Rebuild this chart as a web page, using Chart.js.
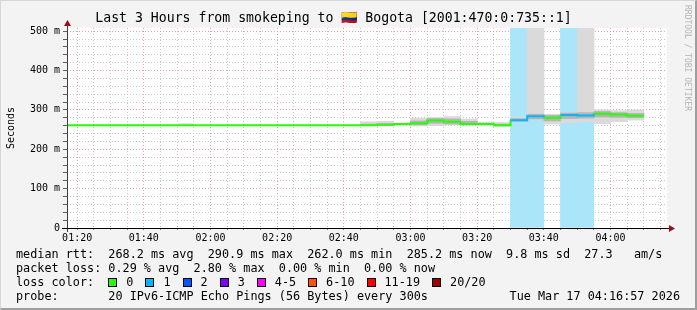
<!DOCTYPE html>
<html>
<head>
<meta charset="utf-8">
<script src="https://cdn.jsdelivr.net/npm/chart.js@4.4.1/dist/chart.umd.min.js"></script>
<style>
  body { margin: 0; background: #f3f3f3; }
  #wrap { position: relative; width: 697px; height: 310px; background: #f3f3f3; overflow: hidden; font-family: 'DejaVu Sans Mono', monospace; }
  #wrap canvas { position: absolute; left: 0; top: 0; }
  .frame { position: absolute; left: 0; top: 0; width: 697px; height: 310px; box-sizing: border-box; border-top: 1px solid #d6d6d6; border-left: 1px solid #d6d6d6; border-right: 2px solid #9e9e9e; border-bottom: 2px solid #9e9e9e; pointer-events: none; }
  .row { position: absolute; left: 16px; font-size: 11.8px; line-height: 14px; white-space: pre; color: #000; }
  .key i { display: inline-block; width: 9px; height: 9px; box-sizing: border-box; border: 1px solid #000; vertical-align: -1px; margin-right: 9px; }
  .key { margin-right: 12px; }
  .stamp { position: absolute; right: 17px; top: 289px; font-size: 11.8px; line-height: 14px; white-space: pre; }
  .mark { position: absolute; left: 683px; top: 5px; writing-mode: vertical-rl; font-size: 8px; color: #b4b4b4; white-space: pre; }
</style>
</head>
<body>
<div id="wrap">
  <canvas id="smoke" width="697" height="310"></canvas>
  <div class="row" style="top:247px">median rtt:  268.2 ms avg  290.9 ms max  262.0 ms min  285.2 ms now  9.8 ms sd  27.3   am/s</div>
  <div class="row" style="top:261px">packet loss: 0.29 % avg  2.80 % max  0.00 % min  0.00 % now</div>
  <div class="row" style="top:275px">loss color:  <span id="lossKeys"></span></div>
  <div class="row" style="top:289px">probe:       20 IPv6-ICMP Echo Pings (56 Bytes) every 300s</div>
  <div class="stamp">Tue Mar 17 04:16:57 2026</div>
  <div class="mark">RRDTOOL / TOBI OETIKER</div>
  <div class="frame"></div>
</div>
<script>
// 5-minute steps (start of each interval)
const stepTimes = ['01:15','01:20','01:25','01:30','01:35','01:40','01:45','01:50','01:55','02:00',
                   '02:05','02:10','02:15','02:20','02:25','02:30','02:35','02:40','02:45','02:50',
                   '02:55','03:00','03:05','03:10','03:15','03:20','03:25','03:30','03:35','03:40',
                   '03:45','03:50','03:55','04:00','04:05'];
const medianRtt = [261,261,261,261,261,261,261,261,261,261,
                   261,261,261,261,261,261,261,261,261,262,
                   264,266,273,270,264,264,261,274,284,280,
                   287,286,290,288,285];
const smokeLo = [null,null,null,null,null,null,null,261,null,null,
                 null,null,null,null,null,null,null,null,261,261,
                 262,259,260,262,262,262,258,269,275,264,
                 267,270,265,270,274];
const smokeHi = [null,null,null,null,null,null,null,265,null,null,
                 null,null,null,null,null,null,null,null,270,271,
                 266,279,281,283,277,269,268,282,520,289,
                 294,520,300,298,300];
const coreLo = [null,null,null,null,null,null,null,null,null,null,
                null,null,null,null,null,null,null,null,261,261,
                262,262,266,264,262,262,260,271,277,272,
                278,279,282,281,280];
const coreHi = [null,null,null,null,null,null,null,null,null,null,
                null,null,null,null,null,null,null,null,264,265,
                265,272,278,277,271,266,264,278,289,286,
                292,293,296,293,291];
const lostPings = [0,0,0,0,0,0,0,0,0,0,
                   0,0,0,0,0,0,0,0,0,0,
                   0,0,0,0,0,0,0,1,1,0,
                   1,1,0,0,0];

const xTickLabels = ['01:20','01:40','02:00','02:20','02:40','03:00','03:20','03:40','04:00'];
const yTickLabels = ['0','100 m','200 m','300 m','400 m','500 m'];
const lossKeyLabels = ['0','1','2','3','4-5','6-10','11-19','20/20'];
const lossKeyColors = ['#26ff00','#00b8ff','#0059ff','#7e00ff','#ff00ff','#ff5500','#ff0000','#a10000'];

const xStart = '01:16:57', xEnd = '04:16:57';
const yMax = 508;
const STEP = 5;
const toMin = s => { const [h, m, sec = 0] = s.split(':').map(Number); return h * 60 + m + sec / 60; };

const keys = document.getElementById('lossKeys');
lossKeyLabels.forEach((lab, i) => {
  const s = document.createElement('span');
  s.className = 'key';
  s.innerHTML = '<i style="background:' + lossKeyColors[i] + '"></i>' + lab;
  keys.appendChild(s);
});

const starts = stepTimes.map(toMin);
const bandData = (lo, hi) => starts
  .map((t, i) => lo[i] == null ? null : { x: t + STEP / 2, y: [lo[i], hi[i]] })
  .filter(Boolean);
const lossBg = starts
  .map((t, i) => lostPings[i] > 0 ? { x: t + STEP / 2, y: [0, yMax] } : null)
  .filter(Boolean);
const medianPts = starts.map((t, i) => ({ x: t, y: medianRtt[i] }));
medianPts.push({ x: starts[starts.length - 1] + STEP, y: medianRtt[medianRtt.length - 1] });

const gridTicksX = [];
for (let t = Math.ceil(toMin(xStart) / STEP) * STEP; t <= toMin(xEnd); t += STEP) gridTicksX.push(t);
const gridTicksY = [];
for (let v = 0; v <= 500; v += 20) gridTicksY.push(v);

const MAJOR = '#f2a2a2', MINOR = '#c8c8c8';
const barBase = { type: 'bar', grouped: false, barPercentage: 1, categoryPercentage: 1, borderWidth: 0, clip: 0 };

const frameBits = {
  id: 'frameBits',
  beforeDraw(chart) {
    const { ctx, chartArea: a } = chart;
    ctx.save();
    ctx.fillStyle = '#ffffff';
    ctx.fillRect(a.left, a.top, a.right - a.left, a.bottom - a.top);
    ctx.restore();
  },
  afterDraw(chart) {
    const { ctx, chartArea: a } = chart;
    const x0 = Math.round(a.left) + 0.5, y0 = Math.round(a.bottom) + 0.5;
    ctx.save();
    ctx.lineWidth = 1;
    ctx.strokeStyle = '#404040';
    ctx.beginPath(); ctx.moveTo(x0, a.bottom + 4); ctx.lineTo(x0, a.top - 4); ctx.stroke();
    ctx.strokeStyle = '#000000';
    ctx.beginPath(); ctx.moveTo(a.left - 5, y0); ctx.lineTo(a.right + 3, y0); ctx.stroke();
    ctx.fillStyle = '#9a1010';
    ctx.beginPath(); ctx.moveTo(x0, a.top - 8); ctx.lineTo(x0 - 3.5, a.top - 2); ctx.lineTo(x0 + 3.5, a.top - 2); ctx.closePath(); ctx.fill();
    ctx.beginPath(); ctx.moveTo(a.right + 8, y0); ctx.lineTo(a.right + 2, y0 - 3.5); ctx.lineTo(a.right + 2, y0 + 3.5); ctx.closePath(); ctx.fill();
    ctx.restore();
  }
};

new Chart(document.getElementById('smoke'), {
  type: 'line',
  data: {
    datasets: [
      { ...barBase, label: 'loss', data: lossBg, backgroundColor: '#aae5fa', order: 4 },
      { ...barBase, label: 'smoke', data: bandData(smokeLo, smokeHi), backgroundColor: '#dadada', order: 3 },
      { ...barBase, label: 'smoke core', data: bandData(coreLo, coreHi), backgroundColor: '#b4b4b4', order: 2 },
      {
        type: 'line', label: 'median rtt', data: medianPts, stepped: 'before',
        borderWidth: 2, pointRadius: 0, clip: 0, order: 1,
        borderColor: lossKeyColors[0],
        segment: { borderColor: c => lossKeyColors[lostPings[c.p0DataIndex]] || lossKeyColors[0] }
      }
    ]
  },
  options: {
    responsive: false,
    devicePixelRatio: 1,
    animation: false,
    layout: { padding: { left: 0, right: 30, top: 0, bottom: 0 } },
    plugins: {
      legend: { display: false },
      tooltip: { enabled: false },
      title: {
        display: true,
        text: 'Last 3 Hours from smokeping to \u{1F1E8}\u{1F1F4} Bogota [2001:470:0:735::1]',
        color: '#000',
        font: { family: 'DejaVu Sans Mono', size: 13.2, weight: 'normal', lineHeight: 1.2 },
        padding: { top: 11, bottom: 1.16 }
      }
    },
    scales: {
      x: {
        type: 'linear', min: toMin(xStart), max: toMin(xEnd), offset: false, z: 1,
        afterBuildTicks: s => { s.ticks = gridTicksX.map(v => ({ value: v })); },
        afterFit: s => { s.height = 82; },
        grid: {
          offset: false, lineWidth: 1, tickLength: 2,
          color: c => xTickLabels.includes(fmt(c.tick.value)) ? MAJOR : MINOR,
          tickColor: '#808080'
        },
        border: { display: false, dash: [1, 2] },
        ticks: {
          autoSkip: false, maxRotation: 0, padding: 2, color: '#000',
          font: { family: 'DejaVu Sans Mono', size: 10 },
          callback: v => xTickLabels.includes(fmt(v)) ? fmt(v) : ''
        }
      },
      y: {
        type: 'linear', min: 0, max: yMax, z: 1,
        afterBuildTicks: s => { s.ticks = gridTicksY.map(v => ({ value: v })); },
        afterFit: s => { s.width = 67; },
        grid: {
          lineWidth: 1, tickLength: 4,
          color: c => c.tick.value === 0 ? 'rgba(0,0,0,0)' : (c.tick.value % 100 === 0 ? MAJOR : MINOR),
          tickColor: '#606060'
        },
        border: { display: false, dash: [1, 2] },
        ticks: {
          autoSkip: false, padding: 3, color: '#000',
          font: { family: 'DejaVu Sans Mono', size: 10 },
          callback: v => v % 100 === 0 ? yTickLabels[v / 100] : ''
        },
        title: {
          display: true, text: 'Seconds', color: '#000',
          font: { family: 'DejaVu Sans Mono', size: 10 },
          padding: { top: 5, bottom: 0 }
        }
      }
    }
  },
  plugins: [frameBits]
});

function fmt(m) {
  const h = Math.floor(m / 60), mm = Math.round(m % 60);
  return String(h).padStart(2, '0') + ':' + String(mm).padStart(2, '0');
}
</script>
</body>
</html>
